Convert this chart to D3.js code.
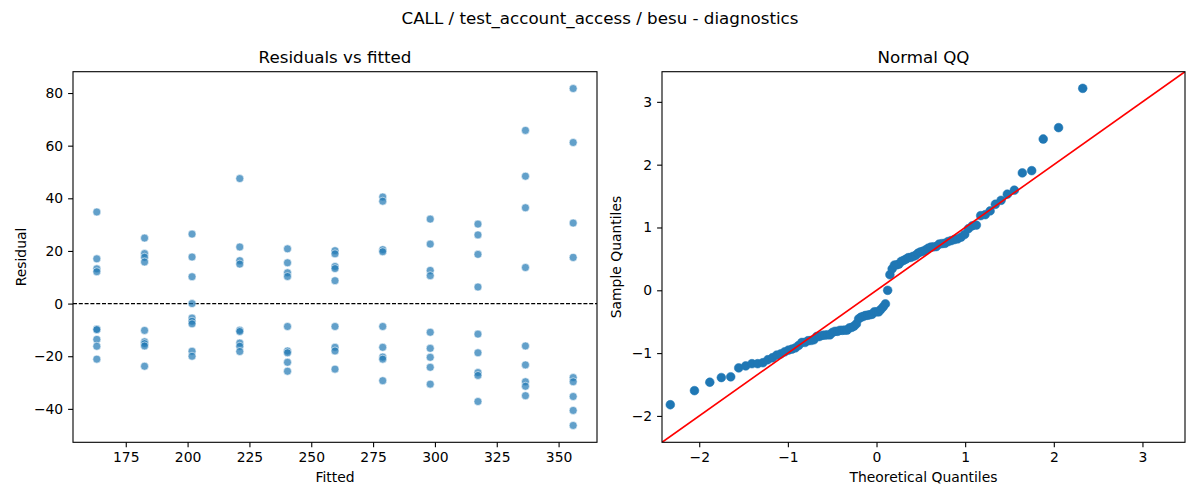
<!DOCTYPE html>
<html>
<head>
<meta charset="utf-8">
<script src="https://cdn.jsdelivr.net/npm/d3@7"></script>
<style>
  body { margin: 0; background: #fff; }
  svg text { font-family: "DejaVu Sans", sans-serif; fill: #000; }
</style>
</head>
<body>
<svg id="chart" width="1200" height="500"></svg>
<script>

// fitted value of each group (one column of points per group)
var fitted = [163.3, 182.6, 201.8, 221.1, 240.4, 259.6, 278.9, 298.1, 317.4, 336.6, 355.9];

// residuals, one list per fitted column
var residuals = [
	[34.8, 17.0, 13.2, 12.1, -9.7, -9.9, -13.6, -16.2, -21.1],
	[24.9, 19.0, 17.6, 15.8, -10.2, -14.5, -15.2, -16.1, -23.8],
	[26.4, 17.7, 10.2, 0.0, -5.5, -6.7, -7.7, -18.1, -20.0],
	[47.5, 21.5, 16.3, 15.0, -10.1, -10.6, -15.0, -16.2, -18.2],
	[20.8, 15.5, 11.7, 10.3, -8.7, -18.0, -18.7, -22.3, -25.7],
	[20.1, 18.9, 14.1, 13.3, 8.7, -8.7, -16.6, -18.0, -24.9],
	[40.5, 38.9, 20.5, 19.7, -8.7, -16.6, -20.3, -21.1, -29.3],
	[32.1, 22.6, 12.6, 10.6, -10.9, -17.0, -20.4, -24.2, -30.6],
	[30.2, 26.1, 18.7, 6.3, -11.6, -18.7, -26.2, -27.3, -37.2],
	[65.8, 48.4, 36.4, 13.7, -16.1, -23.3, -29.7, -31.4, -35.0],
	[81.7, 61.2, 30.6, 17.5, -28.1, -29.7, -35.3, -40.6, -46.3]
];

var fittedTicks = [175, 200, 225, 250, 275, 300, 325, 350];
var residTicks = [-40, -20, 0, 20, 40, 60, 80];
var qqTicks = [-2, -1, 0, 1, 2, 3];
var qqLimits = [-2.42, 3.48];

var svg = d3.select('#chart');
var tickFont = 13.9;

// inverse normal cdf (Acklam), used for theoretical quantiles
function normInv(p) {
	var a = [-39.69683028665376, 220.9460984245205, -275.9285104469687, 138.3577518672690, -30.66479806614716, 2.506628277459239];
	var b = [-54.47609879822406, 161.5858368580409, -155.6989798598866, 66.80131188771972, -13.28068155288572];
	var c = [-0.007784894002430293, -0.3223964580411365, -2.400758277161838, -2.549732539343734, 4.374664141464968, 2.938163982698783];
	var d = [0.007784695709041462, 0.3224671290700398, 2.445134137142996, 3.754408661907416];
	var q, r;
	if (p < 0.02425) {
		q = Math.sqrt(-2 * Math.log(p));
		return (((((c[0]*q+c[1])*q+c[2])*q+c[3])*q+c[4])*q+c[5]) / ((((d[0]*q+d[1])*q+d[2])*q+d[3])*q+1);
	}
	if (p > 1 - 0.02425) {
		q = Math.sqrt(-2 * Math.log(1 - p));
		return -(((((c[0]*q+c[1])*q+c[2])*q+c[3])*q+c[4])*q+c[5]) / ((((d[0]*q+d[1])*q+d[2])*q+d[3])*q+1);
	}
	q = p - 0.5;
	r = q * q;
	return (((((a[0]*r+a[1])*r+a[2])*r+a[3])*r+a[4])*r+a[5])*q / (((((b[0]*r+b[1])*r+b[2])*r+b[3])*r+b[4])*r+1);
}

function padded(ext) {
	var m = (ext[1] - ext[0]) * 0.05;
	return [ext[0] - m, ext[1] + m];
}

function drawAxes(g, x, y, xTicks, yTicks, w, h) {
	var xa = d3.axisBottom(x).tickValues(xTicks).tickSize(4.9).tickPadding(4.9)
		.tickFormat(function(d) { return d < 0 ? '\u2212' + Math.abs(d) : d; });
	var ya = d3.axisLeft(y).tickValues(yTicks).tickSize(4.9).tickPadding(4.9)
		.tickFormat(function(d) { return d < 0 ? '\u2212' + Math.abs(d) : d; });

	var gx = g.append('g').attr('transform', 'translate(0,' + h + ')').call(xa);
	var gy = g.append('g').call(ya);

	[gx, gy].forEach(function(a) {
		a.select('.domain').remove();
		a.selectAll('line').attr('stroke', '#000').attr('stroke-width', 1.1);
		a.selectAll('text').style('font-size', tickFont + 'px').attr('fill', '#000');
	});

	g.append('rect')
		.attr('x', 0)
		.attr('y', 0)
		.attr('width', w)
		.attr('height', h)
		.style('fill', 'none')
		.attr('stroke', '#000')
		.attr('stroke-width', 1.1);
}

// ---------- left: residuals vs fitted ----------
var L = { x: 73, y: 71.7, w: 524, h: 370.6 };
var gl = svg.append('g').attr('transform', 'translate(' + L.x + ',' + L.y + ')');

var allResid = d3.merge(residuals);
var xScale = d3.scaleLinear().domain(padded(d3.extent(fitted))).range([0, L.w]);
var yScale = d3.scaleLinear().domain(padded(d3.extent(allResid))).range([L.h, 0]);

var pts = [];
fitted.forEach(function(f, i) {
	residuals[i].forEach(function(r) { pts.push({ f: f, r: r }); });
});

gl.append('line')
	.attr('x1', 0)
	.attr('x2', L.w)
	.attr('y1', yScale(0))
	.attr('y2', yScale(0))
	.attr('stroke', '#000')
	.attr('stroke-width', 1.1)
	.style('stroke-dasharray', '4,1.8');

gl.selectAll('circle.res')
	.data(pts)
	.enter().append('circle')
	.attr('class', 'res')
	.attr('cx', function(d) { return xScale(d.f); })
	.attr('cy', function(d) { return yScale(d.r); })
	.attr('r', 4)
	.style('fill', '#1f77b4')
	.style('fill-opacity', 0.7)
	.attr('stroke', '#fff')
	.attr('stroke-opacity', 0.7)
	.attr('stroke-width', 0.8);

drawAxes(gl, xScale, yScale, fittedTicks, residTicks, L.w, L.h);

gl.append('text')
	.attr('x', L.w / 2)
	.attr('y', -9)
	.attr('text-anchor', 'middle')
	.style('font-size', '16.7px')
	.text('Residuals vs fitted');

gl.append('text')
	.attr('x', L.w / 2)
	.attr('y', L.h + 40)
	.attr('text-anchor', 'middle')
	.style('font-size', tickFont + 'px')
	.text('Fitted');

gl.append('text')
	.attr('transform', 'translate(' + (-47) + ',' + (L.h / 2) + ') rotate(-90)')
	.attr('text-anchor', 'middle')
	.style('font-size', tickFont + 'px')
	.text('Residual');

// ---------- right: normal QQ ----------
var R = { x: 662, y: 71.7, w: 523, h: 370.6 };
var gr = svg.append('g').attr('transform', 'translate(' + R.x + ',' + R.y + ')');

var sd = d3.deviation(allResid);
var sorted = allResid.slice().sort(d3.ascending);
var n = sorted.length;
var qq = sorted.map(function(v, i) {
	return { t: normInv((i + 1) / (n + 1)), s: v / sd };
});

var qx = d3.scaleLinear().domain(qqLimits).range([0, R.w]);
var qy = d3.scaleLinear().domain(qqLimits).range([R.h, 0]);

gr.append('clipPath').attr('id', 'qqclip')
	.append('rect').attr('width', R.w).attr('height', R.h);

gr.selectAll('circle.qq')
	.data(qq)
	.enter().append('circle')
	.attr('class', 'qq')
	.attr('cx', function(d) { return qx(d.t); })
	.attr('cy', function(d) { return qy(d.s); })
	.attr('r', 4.4)
	.style('fill', '#1f77b4')
	.attr('stroke', '#1f77b4')
	.attr('stroke-width', 0.5);

gr.append('line')
	.attr('clip-path', 'url(#qqclip)')
	.attr('x1', qx(qqLimits[0]))
	.attr('y1', qy(qqLimits[0]))
	.attr('x2', qx(qqLimits[1]))
	.attr('y2', qy(qqLimits[1]))
	.attr('stroke', '#ff0000')
	.attr('stroke-width', 1.7);

drawAxes(gr, qx, qy, qqTicks, qqTicks, R.w, R.h);

gr.append('text')
	.attr('x', R.w / 2)
	.attr('y', -9)
	.attr('text-anchor', 'middle')
	.style('font-size', '16.7px')
	.text('Normal QQ');

gr.append('text')
	.attr('x', R.w / 2)
	.attr('y', R.h + 40)
	.attr('text-anchor', 'middle')
	.style('font-size', tickFont + 'px')
	.text('Theoretical Quantiles');

gr.append('text')
	.attr('transform', 'translate(' + (-41) + ',' + (R.h / 2) + ') rotate(-90)')
	.attr('text-anchor', 'middle')
	.style('font-size', tickFont + 'px')
	.text('Sample Quantiles');

// figure title
svg.append('text')
	.attr('x', 600)
	.attr('y', 24)
	.attr('text-anchor', 'middle')
	.style('font-size', '16.7px')
	.text('CALL / test_account_access / besu - diagnostics');

</script>
</body>
</html>
